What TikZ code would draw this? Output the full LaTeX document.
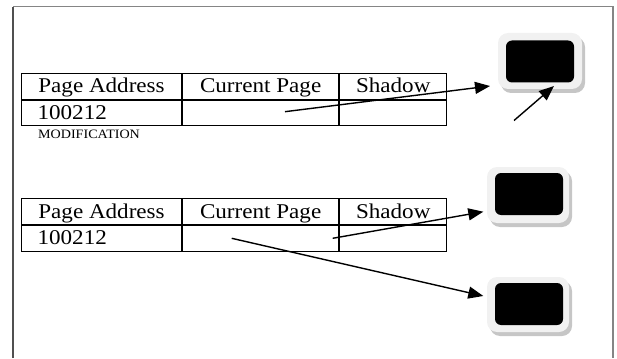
\documentclass[tikz,border=0pt]{standalone}
\usepackage{fontspec}
\setmainfont{Liberation Serif}
\newfontfamily\tabfont[FakeStretch=1.1]{Liberation Serif}
\usetikzlibrary{arrows.meta}

\definecolor{panelgray}{HTML}{F1F1F1}
\definecolor{shadegray}{HTML}{C6C6C6}
\definecolor{edgedark}{HTML}{505050}
\definecolor{edgelight}{HTML}{858585}

\begin{document}
\begin{tikzpicture}[x=1pt,y=-1pt,
  cell/.style={draw=black, line width=1.1pt, inner xsep=0pt, inner ysep=0pt,
    minimum height=25.6pt, text height=19.3pt, text depth=6.3pt,
    font=\tabfont\fontsize{21}{24}\selectfont, anchor=north west},
  leftcell/.style={cell, align=left, text width=128pt, inner xsep=15.8pt},
  panel/.style={fill=panelgray, rounded corners=10pt, inner sep=0pt,
    preaction={fill=shadegray, transform canvas={xshift=3pt,yshift=-4pt}}},
  screen/.style={fill=black, rounded corners=6pt, inner sep=0pt,
    minimum width=68pt, minimum height=42pt},
  conn/.style={line width=1.4pt, -{Triangle[length=15pt,width=12pt]}},
  note/.style={font=\tabfont\fontsize{12.8}{14}\selectfont, anchor=base west, inner sep=0pt}]
\useasboundingbox (0,0) rectangle (617,358);

% page border (open at the bottom)
\draw[edgelight, line width=1.6pt] (13.3,6.7) -- (612.7,6.7) -- (612.7,358);
\draw[edgedark, line width=2pt] (13.3,358) -- (13.3,6.7);

% first table
\node[cell, minimum width=160pt] (ah) at (21,73) {Page Address};
\node[cell, minimum width=156pt] (ch) at (ah.north east) {Current Page};
\node[cell, minimum width=107pt] (sh) at (ch.north east) {Shadow};
\node[leftcell, minimum width=160pt] (av) at (ah.south west) {100212};
\node[cell, minimum width=156pt] (cv) at (av.north east) {};
\node[cell, minimum width=107pt] (sv) at (cv.north east) {};
\node[note] (mod) at (38,138.3) {MODIFICATION};

% second table
\node[cell, minimum width=160pt] (ah2) at (21,198.3) {Page Address};
\node[cell, minimum width=156pt] (ch2) at (ah2.north east) {Current Page};
\node[cell, minimum width=107pt] (sh2) at (ch2.north east) {Shadow};
\node[leftcell, minimum width=160pt] (av2) at (ah2.south west) {100212};
\node[cell, minimum width=156pt] (cv2) at (av2.north east) {};
\node[cell, minimum width=107pt] (sv2) at (cv2.north east) {};

% page frames
\node[panel, minimum width=84pt, minimum height=56pt] (f1) at (540,61) {};
\node[screen] (s1) at (540,61.5) {};
\node[panel, minimum width=82pt, minimum height=56pt] (f2) at (528,195) {};
\node[screen] (s2) at (529,194) {};
\node[panel, minimum width=82pt, minimum height=55pt] (f3) at (528,304.5) {};
\node[screen] (s3) at (529,304) {};

% connector end points
\coordinate (p1) at (285,111.7);
\coordinate (q1) at (490,86);
\coordinate (p2) at (514,120.5);
\coordinate (q2) at (554,86);
\coordinate (p3) at (332.7,238.3);
\coordinate (q3) at (483.3,211.7);
\coordinate (p4) at (231.7,238.3);
\coordinate (q4) at (483.3,296);

\draw[conn] (p1) -- (q1);
\draw[conn] (p2) -- (q2);
\draw[conn] (p3) -- (q3);
\draw[conn] (p4) -- (q4);
\end{tikzpicture}
\end{document}
